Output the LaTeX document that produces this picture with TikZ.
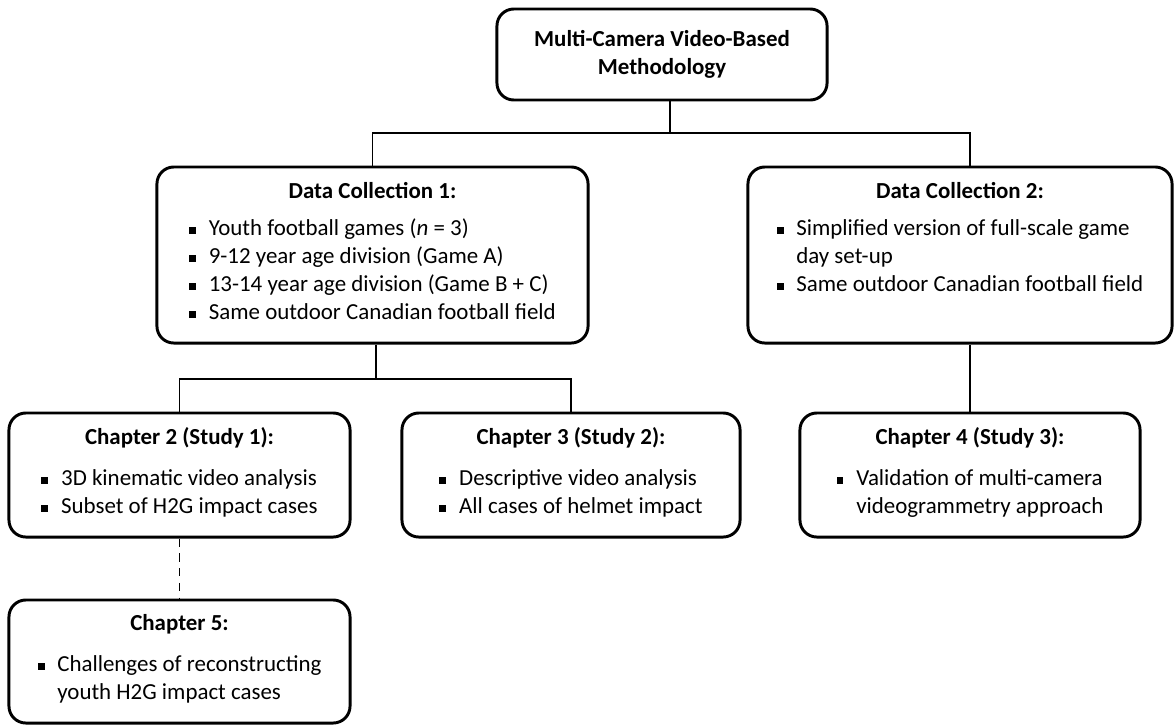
\documentclass[tikz,border=0pt]{standalone}
\usepackage{fontspec}
\setmainfont{Carlito}
\usepackage{tikz}
\usetikzlibrary{positioning,calc}

\newcommand{\blt}{\makebox[14pt][l]{\rule[1.4pt]{4.9pt}{4.9pt}}}
\newcommand{\hd}[1]{\textbf{#1}\\[11.5pt]}

\tikzset{
  chbox/.style={draw,line width=2.1pt,rounded corners=12pt,align=center,inner sep=0pt,
    font=\fontsize{16.3}{19.9}\selectfont},
  link/.style={line width=1.1pt}
}

\begin{document}
\begin{tikzpicture}[x=0.025cm,y=-0.025cm]
        \useasboundingbox (0,0) rectangle (1175,725);
        % top of the tree
        \node[chbox,minimum width=8.25cm,minimum height=2.275cm] (meth) at (662,54.5)
          {\textbf{Multi-Camera Video-Based}\\\textbf{Methodology}};
        % data collections
        \node[chbox,minimum width=10.775cm,minimum height=4.4cm] (dc1) at (372.5,255)
          {\hd{Data Collection 1:}
           \begin{tabular}{@{}l@{}l@{}}
           \blt & Youth football games (\textit{n} = 3)\\
           \blt & 9-12 year age division (Game A)\\
           \blt & 13-14 year age division (Game B + C)\\
           \blt & Same outdoor Canadian football field
           \end{tabular}};
        \node[chbox,minimum width=10.6cm,minimum height=4.4cm] (dc2) at (960,255)
          {\hd{Data Collection 2:}
           \begin{tabular}{@{}l@{}l@{}}
           \blt & Simplified version of full-scale game\\
                & day set-up\\
           \blt & Same outdoor Canadian football field\\
                & \strut
           \end{tabular}};
        % studies
        \node[chbox,minimum width=8.525cm,minimum height=3.1cm] (ch2) at (179.5,475)
          {\hd{Chapter 2 (Study 1):}
           \begin{tabular}{@{}l@{}l@{}}
           \blt & 3D kinematic video analysis\\
           \blt & Subset of H2G impact cases
           \end{tabular}};
        \node[chbox,minimum width=8.45cm,minimum height=3.1cm] (ch3) at (571,475)
          {\hd{Chapter 3 (Study 2):}
           \begin{tabular}{@{}l@{}l@{}}
           \blt & Descriptive video analysis\\
           \blt & All cases of helmet impact
           \end{tabular}};
        \node[chbox,minimum width=8.5cm,minimum height=3.1cm] (ch4) at (970,475)
          {\hd{Chapter 4 (Study 3):}
           \begin{tabular}{@{}l@{}l@{}}
           \blt & Validation of multi-camera\\
                & videogrammetry approach
           \end{tabular}};
        \node[chbox,minimum width=8.525cm,minimum height=3.075cm] (ch5) at (179.5,661.5)
          {\hd{Chapter 5:}
           \begin{tabular}{@{}l@{}l@{}}
           \blt & Challenges of reconstructing\\
                & youth H2G impact cases
           \end{tabular}};
        % connectors
        \coordinate (j1) at (670,133);
        \coordinate (j2) at (376,379);
        \draw[link] (meth.south -| j1)--(j1);
        \draw[link] (dc1.north) |- (j1) -| (ch4.north |- dc2.north);
        \draw[link] (dc2.south -| ch4.north)--(ch4.north);
        \draw[link] (dc1.south -| j2)--(j2);
        \draw[link] (ch2.north) |- (j2) -| (ch3.north);
        \draw[link,dash pattern=on 6pt off 4.5pt] (ch2.south)--(ch5.north);
      \end{tikzpicture}
\end{document}
